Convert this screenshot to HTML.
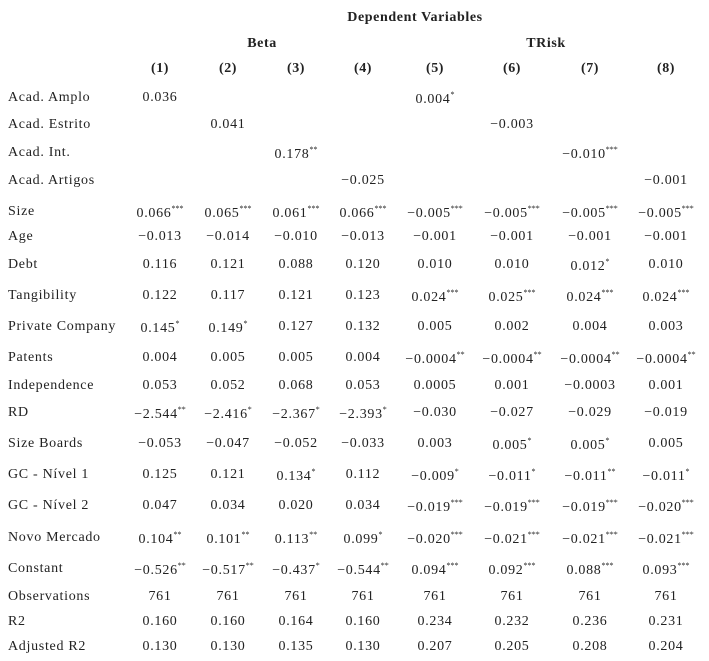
<!DOCTYPE html>
<html><head><meta charset="utf-8">
<style>
body{margin:0;background:#fff;width:709px;height:661px;position:relative;overflow:hidden;font-family:"Liberation Serif",serif;color:#222;font-size:14px;letter-spacing:0.7px}
.t{position:absolute;white-space:nowrap}
.b{font-weight:bold;letter-spacing:0.6px}
.c{transform:translateX(-50%)}
sup{font-size:8px;vertical-align:6px;line-height:0;letter-spacing:0}
</style></head><body>
<div class="t b c" style="left:415px;top:10px">Dependent Variables</div>
<div class="t b c" style="left:262px;top:36px">Beta</div>
<div class="t b c" style="left:546px;top:36px">TRisk</div>
<script>
const colLabels=["(1)","(2)","(3)","(4)","(5)","(6)","(7)","(8)"];
const colX=[160,228,296,363,435,512,590,666];
const rowLabels=["Acad. Amplo","Acad. Estrito","Acad. Int.","Acad. Artigos","Size","Age","Debt","Tangibility","Private Company","Patents","Independence","RD","Size Boards","GC - Nível 1","GC - Nível 2","Novo Mercado","Constant","Observations","R2","Adjusted R2"];
const rowY=[90,117,145,173,204,229,257,288,319,350,378,405,436,467,498,530,561,589,614,639];
const values=[
["0.036","","","","0.004*","","",""],
["","0.041","","","","−0.003","",""],
["","","0.178**","","","","−0.010***",""],
["","","","−0.025","","","","−0.001"],
["0.066***","0.065***","0.061***","0.066***","−0.005***","−0.005***","−0.005***","−0.005***"],
["−0.013","−0.014","−0.010","−0.013","−0.001","−0.001","−0.001","−0.001"],
["0.116","0.121","0.088","0.120","0.010","0.010","0.012*","0.010"],
["0.122","0.117","0.121","0.123","0.024***","0.025***","0.024***","0.024***"],
["0.145*","0.149*","0.127","0.132","0.005","0.002","0.004","0.003"],
["0.004","0.005","0.005","0.004","−0.0004**","−0.0004**","−0.0004**","−0.0004**"],
["0.053","0.052","0.068","0.053","0.0005","0.001","−0.0003","0.001"],
["−2.544**","−2.416*","−2.367*","−2.393*","−0.030","−0.027","−0.029","−0.019"],
["−0.053","−0.047","−0.052","−0.033","0.003","0.005*","0.005*","0.005"],
["0.125","0.121","0.134*","0.112","−0.009*","−0.011*","−0.011**","−0.011*"],
["0.047","0.034","0.020","0.034","−0.019***","−0.019***","−0.019***","−0.020***"],
["0.104**","0.101**","0.113**","0.099*","−0.020***","−0.021***","−0.021***","−0.021***"],
["−0.526**","−0.517**","−0.437*","−0.544**","0.094***","0.092***","0.088***","0.093***"],
["761","761","761","761","761","761","761","761"],
["0.160","0.160","0.164","0.160","0.234","0.232","0.236","0.231"],
["0.130","0.130","0.135","0.130","0.207","0.205","0.208","0.204"]
];
colLabels.forEach((l,i)=>{
  const d=document.createElement('div');
  d.className='t b c';d.style.left=colX[i]+'px';d.style.top='61px';d.textContent=l;
  
  
  document.body.appendChild(d);
});
rowLabels.forEach((l,r)=>{
  const d=document.createElement('div');
  d.className='t';d.style.left='8px';d.style.top=rowY[r]+'px';d.textContent=l;
  
  
  document.body.appendChild(d);
  values[r].forEach((v,c)=>{
    if(!v)return;
    const m=v.match(/^([^*]*)(\**)$/);
    const e=document.createElement('div');
    e.className='t c';e.style.left=colX[c]+'px';
    e.style.top=(rowY[r]+(m[2]?2:0))+'px';
    e.innerHTML=m[1]+(m[2]?'<sup>'+m[2]+'</sup>':'');
    
    
    document.body.appendChild(e);
  });
});
</script>
</body></html>
